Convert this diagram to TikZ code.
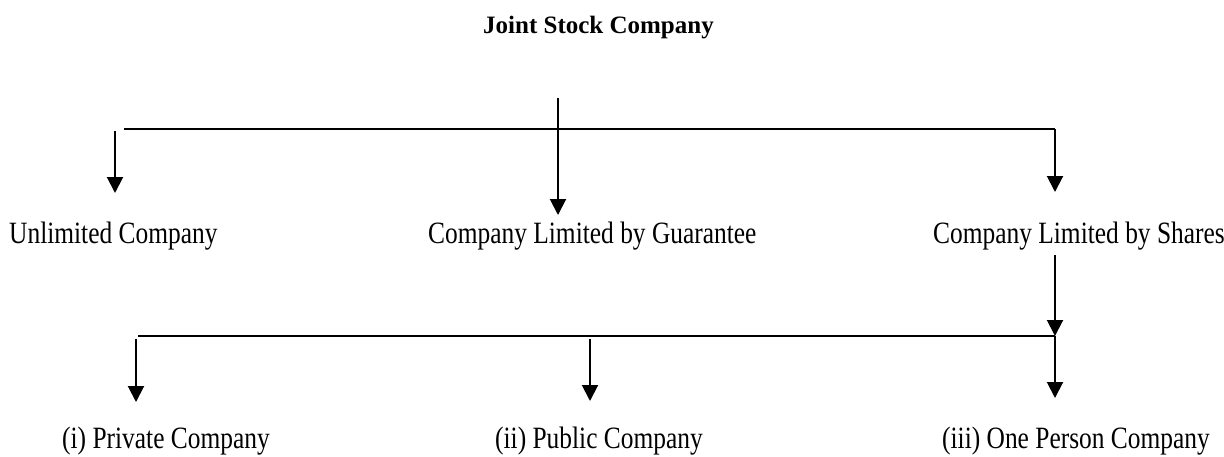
\documentclass[tikz,border=0pt]{standalone}
\usepackage{fontspec}
\setmainfont{Liberation Serif}[FakeStretch=0.82]
\newfontfamily\titlefont{Liberation Serif}
\usetikzlibrary{arrows.meta}
\tikzset{
  lbl/.style={anchor=base west, inner sep=0pt, font=\fontsize{31}{36}\selectfont},
  ttl/.style={anchor=base west, inner sep=0pt, font=\titlefont\bfseries\fontsize{25}{30}\selectfont},
  ln/.style={line width=2pt},
  arr/.style={line width=2pt, -{Triangle[width=16pt,length=16pt]}},
}
\begin{document}
\begin{tikzpicture}[x=1pt,y=-1pt]
\useasboundingbox (0,0) rectangle (1224,456);
% texts
\node[ttl] (title) at (483,33) {Joint Stock Company};
\node[lbl] (unl) at (9,243) {Unlimited Company};
\node[lbl] (guar) at (428,243) {Company Limited by Guarantee};
\node[lbl] (shares) at (933,243) {Company Limited by Shares};
\node[lbl] (priv) at (62,448) {(i) Private Company};
\node[lbl] (pub) at (495,448) {(ii) Public Company};
\node[lbl] (one) at (942,448) {(iii) One Person Company};
% coordinates top level
\coordinate (tl) at (124,129);
\coordinate (tr) at (1055,129);
\coordinate (mtop) at (558,98);
\coordinate (mtip) at (558,215);
\coordinate (lstart) at (115,131);
\coordinate (ltip) at (115,193);
\coordinate (rtip) at (1055,192);
\draw[ln] (tl) -- (tr);
\draw[arr] (lstart) -- (ltip);
\draw[arr] (mtop) -- (mtip);
\draw[arr] (tr) -- (rtip);
% second level
\coordinate (sstart) at (1055,255);
\coordinate (sjoin) at (1055,336);
\coordinate (bl) at (138,336);
\coordinate (s1) at (136,339);
\coordinate (t1) at (136,402);
\coordinate (s2) at (590,339);
\coordinate (t2) at (590,401);
\coordinate (t3) at (1055,398);
\draw[arr] (sstart) -- (sjoin);
\draw[ln] (bl) -- (sjoin);
\draw[arr] (s1) -- (t1);
\draw[arr] (s2) -- (t2);
\draw[arr] (sjoin) -- (t3);
\end{tikzpicture}
\end{document}
